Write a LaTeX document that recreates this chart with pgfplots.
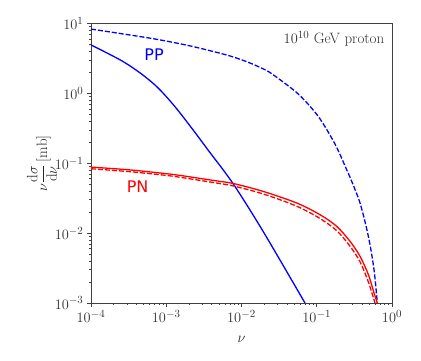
\documentclass[border=0pt]{standalone}
\usepackage{amsmath}
\usepackage{pgfplots}
\pgfplotsset{compat=1.18}
\usepackage{fontspec}
\newfontfamily\labelfont{DejaVu Sans}

\begin{document}
\begin{tikzpicture}
\begin{axis}[
    xmode=log, ymode=log,
    scale only axis,
    width=301pt, height=279.5pt,
    xmin=1e-4, xmax=1, ymin=1e-3, ymax=10,
    axis line style={black!75, line width=0.8pt},
    tick pos=left,
    tick align=outside,
    major tick length=4pt, minor tick length=2pt,
    tick style={black!75, line width=0.6pt},
    ticklabel style={font=\fontsize{15}{18}\selectfont, text=black!80},
    label style={font=\fontsize{15}{18}\selectfont, text=black!85},
    xlabel={$\nu$},
    xlabel style={yshift=-7pt},
    ylabel={$\nu\dfrac{\mathrm{d}\sigma}{\mathrm{d}\nu}\,\mathrm{[mb]}$},
    ylabel style={yshift=-9pt},
    every axis plot/.append style={line width=1.3pt},
]
% PP, solid
\addplot[blue, smooth, tension=0.5] coordinates {
 (1e-4,4.93) (2.53e-4,2.95) (4.66e-4,1.905) (7.76e-4,1.202) (1.294e-3,0.653)
 (2.153e-3,0.324) (3.59e-3,0.155) (7.71e-3,0.0513) (0.0195,0.01047) (0.0698,0.001)};
% PP, dashed
\addplot[blue, smooth, tension=0.5, dash pattern=on 5pt off 2pt] coordinates {
 (1e-4,8.32) (2.69e-4,7.08) (7.46e-4,5.94) (2.07e-3,4.78) (6.31e-3,3.55)
 (0.01172,2.84) (0.0195,2.24) (0.0265,1.84) (0.0569,0.977) (0.1047,0.468)
 (0.175,0.188) (0.250,0.0807) (0.2767,0.0631) (0.3758,0.0270) (0.4853,0.00899)
 (0.5768,0.00301) (0.638,0.001)};
% PN, solid
\addplot[red, smooth, tension=0.5] coordinates {
 (1e-4,0.0881) (3.16e-4,0.0806) (9.06e-4,0.0718) (1.524e-3,0.0670) (4.22e-3,0.0568)
 (7.78e-3,0.0513) (0.0195,0.0395) (0.0541,0.0270) (0.1104,0.01837) (0.1841,0.01250)
 (0.2767,0.00764) (0.3758,0.00467) (0.4853,0.00255) (0.5768,0.00140) (0.638,0.001)};
% PN, dashed
\addplot[red, smooth, tension=0.5, dash pattern=on 5pt off 2pt] coordinates {
 (1e-4,0.0834) (3.16e-4,0.0760) (9.06e-4,0.0678) (1.524e-3,0.0630) (4.22e-3,0.0530)
 (7.78e-3,0.0473) (0.0195,0.0363) (0.0541,0.0243) (0.1104,0.0162) (0.1841,0.01084)
 (0.2767,0.00650) (0.3758,0.00389) (0.4853,0.00200) (0.594,0.001)};

\node[blue, font=\labelfont\fontsize{16}{18}\selectfont] at (axis cs:6.9e-4,3.63) {PP};
\node[red, font=\labelfont\fontsize{16}{18}\selectfont] at (axis cs:4.17e-4,0.0467) {PN};
\node[anchor=north east, inner sep=0pt, text=black!80, font=\fontsize{15}{18}\selectfont]
  at (rel axis cs:0.975,0.972) {$10^{10}$ GeV proton};
\end{axis}
\path (current axis.south west) ++(-91pt,-58pt) rectangle ++(421pt,361pt);
\end{tikzpicture}
\end{document}
